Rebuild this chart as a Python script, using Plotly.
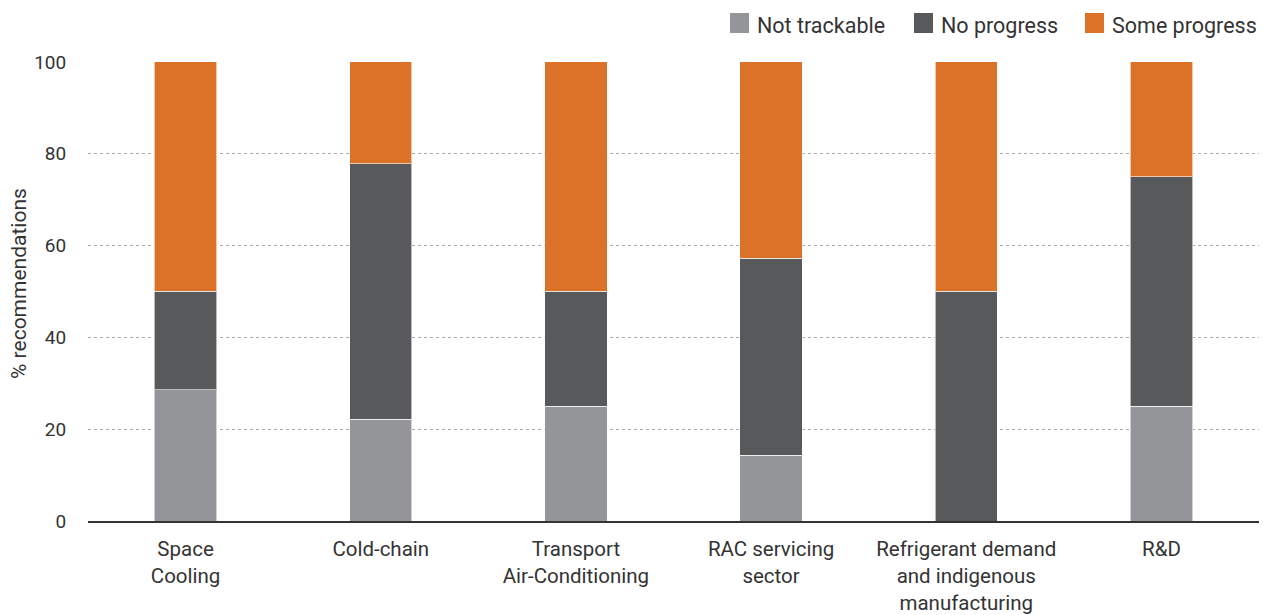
import plotly.graph_objects as go

categories = ["Space<br>Cooling", "Cold-chain", "Transport<br>Air-Conditioning",
              "RAC servicing<br>sector", "Refrigerant demand<br>and indigenous<br>manufacturing", "R&D"]
not_trackable = [28.6, 22.2, 25.0, 14.3, 0.0, 25.0]
no_progress = [21.4, 55.6, 25.0, 42.9, 50.0, 50.0]
some_progress = [50.0, 22.2, 50.0, 42.8, 50.0, 25.0]

series_names = ["Not trackable", "No progress", "Some progress"]
series_values = [not_trackable, no_progress, some_progress]
series_colors = ["#939598", "#58595b", "#dc7128"]
y_title = "% recommendations"

TXT = "#333333"
W, H = 1263, 615
ML, MR, MT, MB = 88, 4, 61, 94
PW, PH = W - ML - MR, H - MT - MB

def px_x(p):
    return (p - ML) / PW

def px_y(p):
    return (H - MB - p) / PH

fig = go.Figure()
for name, vals, color in zip(series_names, series_values, series_colors):
    fig.add_trace(go.Bar(x=categories, y=vals, name=name, marker_color=color,
                         marker_line=dict(color="rgba(255,255,255,0.6)", width=1),
                         width=0.32, showlegend=False))

# legend drawn as swatches + labels above the plot
legend_swatch_x = [730, 914, 1085]
shapes, annotations = [], []
for name, color, sx in zip(series_names, series_colors, legend_swatch_x):
    shapes.append(dict(type="rect", xref="paper", yref="paper",
                       x0=px_x(sx), x1=px_x(sx + 19), y0=px_y(33), y1=px_y(13),
                       fillcolor=color, line=dict(width=0)))
    annotations.append(dict(xref="paper", yref="paper", x=px_x(sx + 25), y=px_y(25),
                            xanchor="left", yanchor="middle", showarrow=False,
                            text=name, font=dict(size=21.5, color=TXT)))
# y-axis title
annotations.append(dict(xref="paper", yref="paper", x=px_x(19), y=px_y(284),
                        xanchor="center", yanchor="middle", showarrow=False,
                        textangle=-90, text=y_title, font=dict(size=21, color=TXT)))

fig.update_layout(
    barmode="stack",
    width=W, height=H,
    margin=dict(l=ML, r=MR, t=MT, b=MB, autoexpand=False),
    paper_bgcolor="white", plot_bgcolor="white",
    font=dict(family="Roboto", size=20, color=TXT),
    showlegend=False,
    shapes=shapes, annotations=annotations,
)
fig.update_xaxes(showgrid=False, showline=True, linecolor="#333333", linewidth=1.5,
                 tickfont=dict(size=20.5, color=TXT), ticks="outside", ticklen=9,
                 tickcolor="rgba(0,0,0,0)", fixedrange=True, automargin=False)
fig.update_yaxes(range=[0, 100.2], tickvals=[0, 20, 40, 60, 80, 100],
                 showgrid=True, gridcolor="#aaaaaa", griddash="dot", gridwidth=1,
                 zeroline=False, showline=False, automargin=False, fixedrange=True,
                 ticks="outside", ticklen=17, tickcolor="rgba(0,0,0,0)",
                 tickfont=dict(size=19, color=TXT))

fig.write_html("out.html", post_script="document.body.style.margin='0px';",
               config={"displayModeBar": False})
